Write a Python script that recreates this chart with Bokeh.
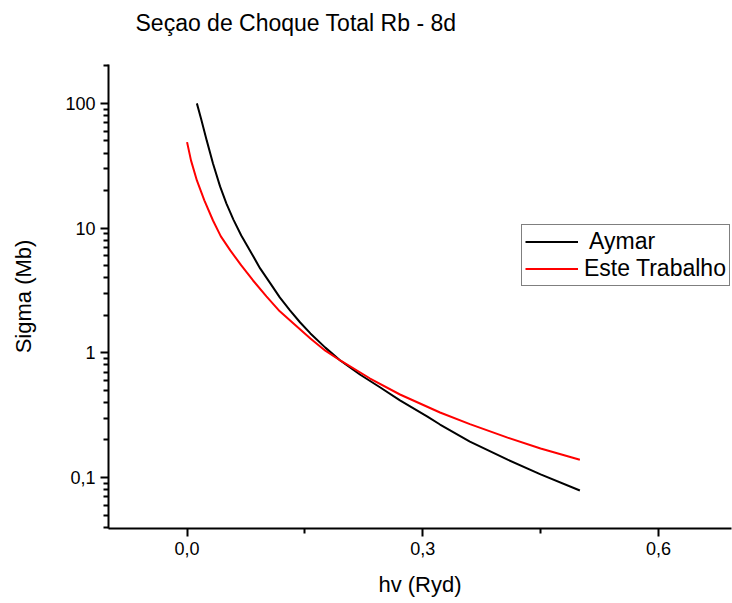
from bokeh.plotting import figure
from bokeh.models import FixedTicker, Legend, LegendItem, Title
from bokeh.embed import file_html
from bokeh.resources import INLINE

# Data
aymar_x = [0.0125, 0.018, 0.025, 0.033, 0.042, 0.050, 0.059, 0.069, 0.080, 0.093,
           0.106, 0.118, 0.131, 0.144, 0.157, 0.176, 0.195, 0.220, 0.246, 0.271,
           0.306, 0.322, 0.360, 0.408, 0.450, 0.500]
aymar_y = [100, 74.5, 50.5, 33.0, 21.6, 15.8, 11.7, 8.73, 6.62, 4.75,
           3.60, 2.78, 2.19, 1.75, 1.43, 1.10, 0.868, 0.670, 0.527, 0.415,
           0.308, 0.266, 0.194, 0.139, 0.106, 0.0787]

este_x = [0.000, 0.005, 0.0125, 0.022, 0.033, 0.043, 0.055, 0.069, 0.084, 0.101,
          0.118, 0.138, 0.157, 0.176, 0.195, 0.233, 0.271, 0.322, 0.360, 0.408,
          0.450, 0.500]
este_y = [48.9, 34.9, 24.1, 16.7, 11.5, 8.58, 6.62, 5.02, 3.80, 2.83,
          2.15, 1.66, 1.30, 1.04, 0.868, 0.622, 0.463, 0.332, 0.268, 0.209,
          0.171, 0.139]

x_ticks = [0.0, 0.3, 0.6]
x_tick_labels = ["0,0", "0,3", "0,6"]
x_minor = [0.15, 0.45]
y_ticks = [0.1, 1, 10, 100]
y_tick_labels = ["0,1", "1", "10", "100"]
y_minor = [0.04, 0.05, 0.06, 0.07, 0.08, 0.09,
           0.2, 0.3, 0.4, 0.5, 0.6, 0.7, 0.8, 0.9,
           2, 3, 4, 5, 6, 7, 8, 9,
           20, 30, 40, 50, 60, 70, 80, 90, 200]
title_text = "Seçao de Choque Total Rb - 8d"

FONT = "Liberation Sans"

p = figure(width=732, height=603, output_backend="svg", toolbar_location=None,
           title=None,
           y_axis_type="log", x_range=(-0.1, 0.693), y_range=(0.039, 205),
           min_border_left=108, min_border_right=1, min_border_top=64,
           min_border_bottom=75)

# spacer between frame and title, then the title itself
p.add_layout(Title(text=" ", text_font_size="1px", standoff=26), "above")
p.add_layout(Title(text=title_text, text_font=FONT, text_font_size="23px",
                   text_font_style="normal", text_color="black",
                   align="left", offset=27, standoff=0), "above")

p.grid.visible = False
p.outline_line_color = None
p.background_fill_color = "white"
p.border_fill_color = "white"

r1 = p.line(aymar_x, aymar_y, line_color="#000000", line_width=2)
r2 = p.line(este_x, este_y, line_color="#ff0000", line_width=2)

p.xaxis.ticker = FixedTicker(ticks=x_ticks, minor_ticks=x_minor)
p.xaxis.major_label_overrides = {t: l for t, l in zip(x_ticks, x_tick_labels)}
p.yaxis.ticker = FixedTicker(ticks=y_ticks, minor_ticks=y_minor)
p.yaxis.major_label_overrides = {t: l for t, l in zip(y_ticks, y_tick_labels)}

p.xaxis.axis_label = "hv (Ryd)"
p.yaxis.axis_label = "Sigma (Mb)"

for ax in (p.xaxis, p.yaxis):
    ax.axis_line_width = 2
    ax.axis_line_color = "black"
    ax.major_tick_out = 8
    ax.major_tick_in = 0
    ax.minor_tick_out = 5
    ax.minor_tick_in = 0
    ax.major_tick_line_width = 2
    ax.minor_tick_line_width = 2
    ax.major_tick_line_color = "black"
    ax.minor_tick_line_color = "black"
    ax.major_label_text_font = FONT
    ax.major_label_text_font_size = "18px"
    ax.major_label_text_color = "black"
    ax.axis_label_text_font = FONT
    ax.axis_label_text_font_size = "22px"
    ax.axis_label_text_font_style = "normal"
    ax.axis_label_text_color = "black"

p.xaxis.major_label_standoff = 5
p.xaxis.axis_label_standoff = 14
p.yaxis.major_label_standoff = 5
p.yaxis.axis_label_standoff = 26

legend = Legend(items=[LegendItem(label=" Aymar", renderers=[r1]),
                       LegendItem(label="Este Trabalho", renderers=[r2])],
                location=(413, 242))
legend.label_text_font = FONT
legend.label_text_font_size = "23px"
legend.label_text_color = "black"
legend.glyph_width = 53
legend.glyph_height = 25
legend.label_height = 25
legend.label_standoff = 6
legend.padding = 3
legend.spacing = 0
legend.margin = 0
legend.border_line_color = "black"
legend.border_line_width = 1
legend.background_fill_alpha = 1
p.add_layout(legend, "center")

open("out.html", "w").write(file_html(p, INLINE))
